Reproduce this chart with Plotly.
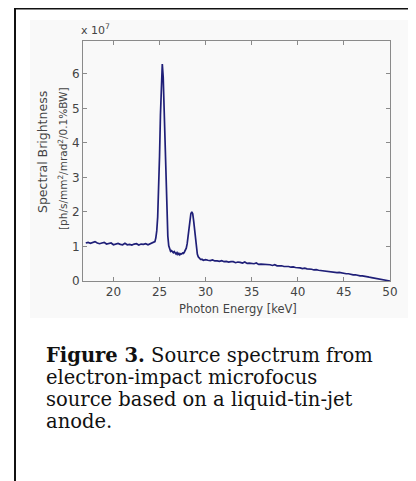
import plotly.graph_objects as go

# ---- data (brightness in units of 1e7 ph/s/mm^2/mrad^2/0.1%BW) ----
energy_low = [17.0, 17.25, 17.5, 17.75, 18.0, 18.25, 18.5, 18.75, 19.0, 19.25,
              19.5, 19.75, 20.0, 20.25, 20.5, 20.75, 21.0, 21.25, 21.5, 21.75,
              22.0, 22.25, 22.5, 22.75, 23.0, 23.25, 23.5, 23.75, 24.0, 24.25]
bright_low = [1.10, 1.12, 1.09, 1.11, 1.14, 1.10, 1.08, 1.10, 1.12, 1.07,
              1.08, 1.10, 1.05, 1.08, 1.09, 1.06, 1.05, 1.09, 1.05, 1.06,
              1.04, 1.07, 1.08, 1.04, 1.07, 1.06, 1.08, 1.05, 1.08, 1.11]

energy_peak = [24.5, 24.6, 24.7, 24.8, 24.9, 25.0, 25.1, 25.2, 25.3, 25.4,
               25.5, 25.6, 25.7, 25.8, 25.9, 26.0, 26.1, 26.2, 26.3, 26.4,
               26.5, 26.6, 26.7, 26.8, 26.9, 27.0, 27.1, 27.2, 27.3, 27.4,
               27.5, 27.6, 27.7, 27.8, 27.9, 28.0, 28.1, 28.2, 28.3, 28.4,
               28.5, 28.6, 28.7, 28.8, 28.9, 29.0, 29.1, 29.2, 29.3, 29.4,
               29.5, 29.6]
bright_peak = [1.14, 1.25, 1.45, 1.85, 2.60, 3.60, 4.80, 5.80, 6.28, 5.90,
               4.90, 3.70, 2.60, 1.80, 1.30, 1.02, 0.90, 0.86, 0.88, 0.84,
               0.82, 0.85, 0.80, 0.78, 0.82, 0.77, 0.80, 0.76, 0.79, 0.78,
               0.81, 0.80, 0.84, 0.88, 0.95, 1.08, 1.30, 1.55, 1.80, 1.95,
               2.00, 1.95, 1.75, 1.45, 1.15, 0.92, 0.78, 0.70, 0.66, 0.64,
               0.62, 0.63]

energy_high = [29.75, 30.0, 30.25, 30.5, 30.75, 31.0, 31.25, 31.5, 31.75, 32.0,
               32.25, 32.5, 32.75, 33.0, 33.25, 33.5, 33.75, 34.0, 34.25, 34.5,
               34.75, 35.0, 35.25, 35.5, 35.75, 36.0, 36.25, 36.5, 36.75, 37.0,
               37.25, 37.5, 37.75, 38.0, 38.25, 38.5, 38.75, 39.0, 39.25, 39.5,
               39.75, 40.0, 40.25, 40.5, 40.75, 41.0, 41.25, 41.5, 41.75, 42.0,
               42.25, 42.5, 42.75, 43.0, 43.25, 43.5, 43.75, 44.0, 44.25, 44.5,
               44.75, 45.0, 45.25, 45.5, 45.75, 46.0, 46.25, 46.5, 46.75, 47.0,
               47.25, 47.5, 47.75, 48.0, 48.25, 48.5, 48.75, 49.0, 49.25, 49.5,
               49.75, 50.0]
bright_high = [0.60, 0.62, 0.60, 0.59, 0.61, 0.58, 0.58, 0.57, 0.59, 0.56,
               0.57, 0.55, 0.56, 0.56, 0.53, 0.55, 0.54, 0.52, 0.55, 0.51,
               0.52, 0.51, 0.50, 0.52, 0.48, 0.49, 0.49, 0.47, 0.48, 0.47,
               0.45, 0.47, 0.44, 0.45, 0.44, 0.42, 0.43, 0.42, 0.40, 0.41,
               0.39, 0.39, 0.38, 0.36, 0.37, 0.35, 0.35, 0.34, 0.32, 0.33,
               0.31, 0.30, 0.31, 0.28, 0.29, 0.27, 0.27, 0.26, 0.24, 0.25,
               0.23, 0.22, 0.21, 0.21, 0.19, 0.18, 0.18, 0.16, 0.15, 0.15,
               0.13, 0.12, 0.11, 0.10, 0.09, 0.08, 0.07, 0.05, 0.04, 0.03,
               0.01, 0.00]

energy = energy_low + energy_peak + energy_high
brightness = bright_low + bright_peak + bright_high

x_ticks = [20, 25, 30, 35, 40, 45, 50]
y_ticks = [0, 1, 2, 3, 4, 5, 6]

caption_lines = [
    "<b>Figure 3.</b> Source spectrum from",
    "electron-impact microfocus",
    "source based on a liquid-tin-jet",
    "anode.",
]

# ---- layout geometry (window pixels; page body has an 8px margin) ----
OFF = 8
W, H = 416 - OFF, 481 - OFF
L, R, T, B = 83, 390, 41, 281          # plot area in window pixels
pw, ph = R - L, B - T


def px(x):
    return (x - L) / pw


def py(y):
    return (B - y) / ph


fig = go.Figure()
fig.add_trace(go.Scatter(x=energy, y=brightness, mode="lines",
                         line=dict(color="#1f1f78", width=1.7),
                         hoverinfo="skip", showlegend=False))

axis_common = dict(showline=True, mirror="ticks", linecolor="#8a8a8a",
                   linewidth=1, ticks="inside", ticklen=4, tickcolor="#8a8a8a",
                   showgrid=False, zeroline=False,
                   tickfont=dict(family="DejaVu Sans", size=12, color="#444444"))

fig.update_layout(
    width=W, height=H,
    margin=dict(l=L - OFF, r=416 - R, t=T - OFF, b=481 - B),
    paper_bgcolor="white", plot_bgcolor="white",
    xaxis=dict(range=[16.7, 50], tickvals=x_ticks, **axis_common),
    yaxis=dict(range=[0, 6.95], tickvals=y_ticks, **axis_common),
)

shapes = [
    # faint MATLAB figure background
    dict(type="rect", xref="paper", yref="paper", layer="below",
         x0=px(30), x1=px(410), y0=py(318), y1=py(20),
         fillcolor="#f9f9f9", line=dict(width=0)),
    # outer frame: top and left lines
    dict(type="line", xref="paper", yref="paper",
         x0=px(15), x1=px(416), y0=py(8.5), y1=py(8.5),
         line=dict(color="#111111", width=2)),
    dict(type="line", xref="paper", yref="paper",
         x0=px(15), x1=px(15), y0=py(8), y1=py(481),
         line=dict(color="#111111", width=2)),
]
fig.update_layout(shapes=shapes)

annos = [
    dict(text="x 10<sup>7</sup>", x=px(79), y=py(30), xanchor="left", yanchor="middle",
         font=dict(family="DejaVu Sans", size=11, color="#444444")),
    dict(text="Photon Energy [keV]", x=px(238), y=py(309), xanchor="center", yanchor="middle",
         font=dict(family="DejaVu Sans", size=11.5, color="#444444")),
    dict(text="Spectral Brightness", x=px(42), y=py(152), xanchor="center", yanchor="middle",
         textangle=-90, font=dict(family="DejaVu Sans", size=12.5, color="#444444")),
    dict(text="[ph/s/mm<sup>2</sup>/mrad<sup>2</sup>/0.1%BW]", x=px(62), y=py(159),
         xanchor="center", yanchor="middle", textangle=-90,
         font=dict(family="DejaVu Sans", size=10.5, color="#444444")),
]
baselines = [362, 384, 406, 428]
for line, base in zip(caption_lines, baselines):
    annos.append(dict(text=line, x=px(44), y=py(base - 7), xanchor="left", yanchor="middle",
                      font=dict(family="DejaVu Serif", size=19.5, color="#111111")))
for a in annos:
    a.update(xref="paper", yref="paper", showarrow=False)
fig.update_layout(annotations=annos)

fig.write_html("out.html")
